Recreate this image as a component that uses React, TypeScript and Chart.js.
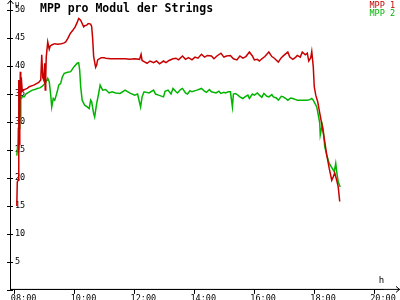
import React, { useEffect, useRef } from "react";
import { Chart, registerables } from "chart.js";

Chart.register(...registerables);

const TITLE = "MPP pro Modul der Strings";
const SERIES_NAMES = ["MPP 1", "MPP 2"];
const SERIES_COLORS = ["#c80000", "#00b400"];
const Y_UNIT = "U";
const X_UNIT = "h";

const mpp1Times = [
  "08:04","08:05","08:07","08:08","08:09","08:10","08:11","08:12","08:13","08:15","08:19","08:25","08:29","08:38","08:48","08:52","08:54","08:56","08:58","09:00","09:01","09:02","09:03","09:06","09:09","09:11","09:15","09:20","09:26","09:33","09:38","09:42","09:46","09:51","09:57","10:01","10:05","10:08","10:12","10:18","10:20","10:24","10:27","10:32","10:34","10:36","10:38","10:42","10:44","10:46","10:53","10:59","11:02","11:12","11:22","11:31","11:41","11:50","12:00","12:10","12:13","12:15","12:19","12:25","12:31","12:38","12:44","12:50","12:58","13:03","13:09","13:17","13:23","13:28","13:36","13:42","13:48","13:55","14:01","14:07","14:14","14:20","14:26","14:34","14:39","14:45","14:53","14:59","15:04","15:12","15:18","15:25","15:31","15:37","15:43","15:50","15:56","16:00","16:06","16:10","16:15","16:21","16:29","16:35","16:40","16:48","16:54","16:59","17:07","17:11","17:17","17:23","17:26","17:32","17:36","17:42","17:46","17:49","17:53","17:55","17:58","18:00","18:03","18:07","18:11","18:16","18:21","18:25","18:30","18:35","18:38","18:41","18:45","18:48","18:51"
];
const mpp1Values = [
  15.0,19.3,19.6,37.5,26.0,30.0,39.0,34.8,38.0,35.5,35.8,36.0,36.3,36.6,37.1,37.5,42.0,38.0,37.5,40.5,35.7,38.0,41.6,44.3,43.0,43.6,43.8,44.0,43.9,44.0,44.1,44.3,44.9,45.8,46.5,47.0,47.8,48.5,48.2,47.0,47.2,47.3,47.6,47.5,47.1,44.9,41.7,39.8,40.2,41.1,41.5,41.5,41.4,41.3,41.3,41.3,41.3,41.2,41.3,41.2,42.1,41.0,40.8,40.5,40.9,40.6,40.9,40.4,40.9,40.6,41.0,41.3,41.4,41.1,41.8,41.2,41.5,41.1,41.6,41.4,42.1,41.6,41.9,41.8,41.3,41.8,42.3,41.6,41.8,41.9,41.3,41.1,41.8,41.4,41.7,42.5,41.8,41.1,41.2,40.9,41.3,41.7,42.5,41.7,41.4,40.7,41.5,41.9,42.5,41.6,41.2,41.6,41.9,41.6,42.5,42.0,42.3,40.9,41.5,42.6,39.9,36.3,34.8,33.6,31.6,29.2,26.5,24.1,21.7,19.6,20.2,20.9,19.6,18.4,15.8
];

const mpp2Times = [
  "08:04","08:05","08:06","08:07","08:08","08:09","08:10","08:11","08:12","08:13","08:15","08:19","08:22","08:29","08:35","08:40","08:45","08:50","08:54","09:01","09:06","09:09","09:12","09:14","09:17","09:20","09:23","09:25","09:28","09:32","09:35","09:39","09:46","09:52","09:58","10:05","10:08","10:10","10:12","10:15","10:20","10:25","10:29","10:32","10:34","10:38","10:40","10:44","10:48","10:51","10:56","11:02","11:09","11:15","11:22","11:31","11:41","11:50","12:00","12:06","12:12","12:15","12:19","12:29","12:38","12:42","12:48","12:58","13:01","13:07","13:13","13:17","13:23","13:26","13:32","13:36","13:42","13:46","13:51","13:55","14:05","14:14","14:20","14:24","14:30","14:34","14:43","14:49","14:53","14:59","15:02","15:08","15:12","15:16","15:18","15:22","15:27","15:31","15:37","15:41","15:47","15:50","15:56","16:00","16:06","16:10","16:15","16:19","16:25","16:29","16:35","16:38","16:44","16:48","16:54","16:58","17:03","17:07","17:13","17:17","17:23","17:26","17:36","17:46","17:51","17:55","17:58","18:05","18:08","18:11","18:12","18:16","18:18","18:21","18:25","18:30","18:36","18:40","18:43","18:45","18:48","18:52"
];
const mpp2Values = [
  24.0,25.0,24.5,29.0,25.0,28.9,32.5,31.0,34.5,34.2,34.5,34.5,35.0,35.4,35.7,35.8,36.0,36.1,36.3,36.9,37.8,37.2,34.8,32.7,34.2,33.9,34.8,35.4,36.6,36.9,38.0,38.7,38.9,39.0,39.8,40.5,40.6,39.3,36.3,33.9,33.0,32.7,32.4,33.9,33.6,31.5,30.9,33.3,35.1,36.6,35.7,35.8,35.2,35.4,35.2,35.1,35.7,35.2,34.8,35.0,32.7,34.5,35.4,35.2,35.7,35.0,34.8,34.5,35.5,35.7,35.0,36.0,35.4,35.2,35.8,36.0,35.2,35.0,35.6,35.4,35.7,36.0,35.5,35.3,35.8,35.4,35.2,35.5,35.1,35.3,35.2,35.4,35.4,32.7,35.0,35.1,34.8,34.5,34.2,34.5,34.8,34.2,35.0,34.8,35.2,34.8,34.4,35.1,34.6,34.5,34.9,34.5,34.3,33.9,34.6,34.5,34.2,33.9,34.3,34.2,34.0,33.9,33.9,33.9,34.0,34.2,33.9,32.7,31.3,29.8,27.7,29.5,28.6,25.6,24.1,22.6,21.7,21.1,22.6,21.1,19.3,18.4
];

const X_MIN_HOURS = 7.84;
const X_MAX_HOURS = 20.32;
const X_TICK_STEP = 2;
const Y_MIN = 0;
const Y_MAX = 50;
const Y_TICK_STEP = 5;

const MONO = '"DejaVu Sans Mono", "Liberation Mono", monospace';

function toHours(t: string): number {
  const [h, m] = t.split(":").map(Number);
  return h + m / 60;
}

function pad2(n: number): string {
  return (n < 10 ? "0" : "") + n;
}

const decorPlugin = {
  id: "decor",
  afterDraw(chart: any) {
    const ctx = chart.ctx;
    const area = chart.chartArea;
    const xs = chart.scales.x;
    const ys = chart.scales.y;
    const ax = xs.left;
    const ay = ys.bottom;
    ctx.save();
    ctx.strokeStyle = "#000";
    ctx.lineWidth = 1;
    // axis extensions with arrows
    ctx.beginPath();
    ctx.moveTo(ax + 0.5, ay);
    ctx.lineTo(ax + 0.5, 0);
    ctx.moveTo(ax + 0.5 - 3, 4);
    ctx.lineTo(ax + 0.5, 0.5);
    ctx.lineTo(ax + 0.5 + 3, 4);
    ctx.moveTo(ax, ay - 0.5);
    ctx.lineTo(chart.width, ay - 0.5);
    ctx.moveTo(chart.width - 4, ay - 0.5 - 3);
    ctx.lineTo(chart.width - 0.5, ay - 0.5);
    ctx.lineTo(chart.width - 4, ay - 0.5 + 3);
    ctx.stroke();
    // y tick marks crossing the axis
    ctx.beginPath();
    ys.ticks.forEach((t: any) => {
      const py = Math.round(ys.getPixelForValue(t.value)) + 0.5;
      ctx.moveTo(ax - 3, py);
      ctx.lineTo(ax + 3, py);
    });
    ctx.stroke();
    // unit labels
    ctx.fillStyle = "#000";
    ctx.font = `7px ${MONO}`;
    ctx.textAlign = "left";
    ctx.textBaseline = "alphabetic";
    ctx.fillText(Y_UNIT, ax + 5, 7);
    ctx.font = `9px ${MONO}`;
    ctx.fillText(X_UNIT, area.right - 5, ay - 7);
    // title
    ctx.font = `bold 11.5px ${MONO}`;
    ctx.fillText(TITLE, 40, 12);
    // legend
    ctx.font = `8.5px ${MONO}`;
    ctx.textAlign = "right";
    SERIES_NAMES.forEach((name, i) => {
      ctx.fillStyle = SERIES_COLORS[i];
      ctx.fillText(name, 395, 8 + i * 8);
    });
    ctx.restore();
  },
};

export default function App() {
  const ref = useRef<HTMLCanvasElement | null>(null);

  useEffect(() => {
    const canvas = ref.current;
    if (!canvas) return;
    const chart = new Chart(canvas, {
      type: "line",
      data: {
        datasets: [
          {
            label: SERIES_NAMES[0],
            data: mpp1Times.map((t, i) => ({ x: toHours(t), y: mpp1Values[i] })),
            borderColor: SERIES_COLORS[0],
            backgroundColor: SERIES_COLORS[0],
            borderWidth: 1.5,
            pointRadius: 0,
            tension: 0,
          },
          {
            label: SERIES_NAMES[1],
            data: mpp2Times.map((t, i) => ({ x: toHours(t), y: mpp2Values[i] })),
            borderColor: SERIES_COLORS[1],
            backgroundColor: SERIES_COLORS[1],
            borderWidth: 1.5,
            pointRadius: 0,
            tension: 0,
          },
        ],
      },
      options: {
        animation: false,
        responsive: false,
        devicePixelRatio: 1,
        layout: { padding: { left: 0, top: 10, right: 10, bottom: 0 } },
        plugins: {
          legend: { display: false },
          title: { display: false },
          tooltip: { enabled: false },
        },
        scales: {
          x: {
            type: "linear",
            min: X_MIN_HOURS,
            max: X_MAX_HOURS,
            afterFit: (s: any) => {
              s.height = 10;
            },
            grid: {
              display: true,
              drawOnChartArea: false,
              drawTicks: true,
              tickLength: 4,
              color: "#000",
            },
            border: { display: true, color: "#000", width: 1 },
            ticks: {
              stepSize: X_TICK_STEP,
              includeBounds: false,
              autoSkip: false,
              maxRotation: 0,
              align: "start",
              labelOffset: -4,
              padding: 0,
              color: "#000",
              font: { family: MONO, size: 8.5 },
              callback: (v: any) => pad2(Number(v)) + ":00",
            },
          },
          y: {
            type: "linear",
            min: Y_MIN,
            max: Y_MAX,
            afterFit: (s: any) => {
              s.width = 10;
            },
            grid: { display: false },
            border: { display: true, color: "#000", width: 1 },
            ticks: {
              stepSize: Y_TICK_STEP,
              mirror: true,
              padding: 5,
              color: "#000",
              font: { family: MONO, size: 8.5 },
              callback: (v: any) => (Number(v) === 0 ? "" : String(v)),
            },
          },
        },
      },
      plugins: [decorPlugin],
    } as any);
    return () => chart.destroy();
  }, []);

  return (
    <div style={{ position: "absolute", left: 0, top: 0, width: 400, height: 300, background: "#fff" }}>
      <canvas ref={ref} width={400} height={300} style={{ display: "block", width: 400, height: 300 }} />
    </div>
  );
}
